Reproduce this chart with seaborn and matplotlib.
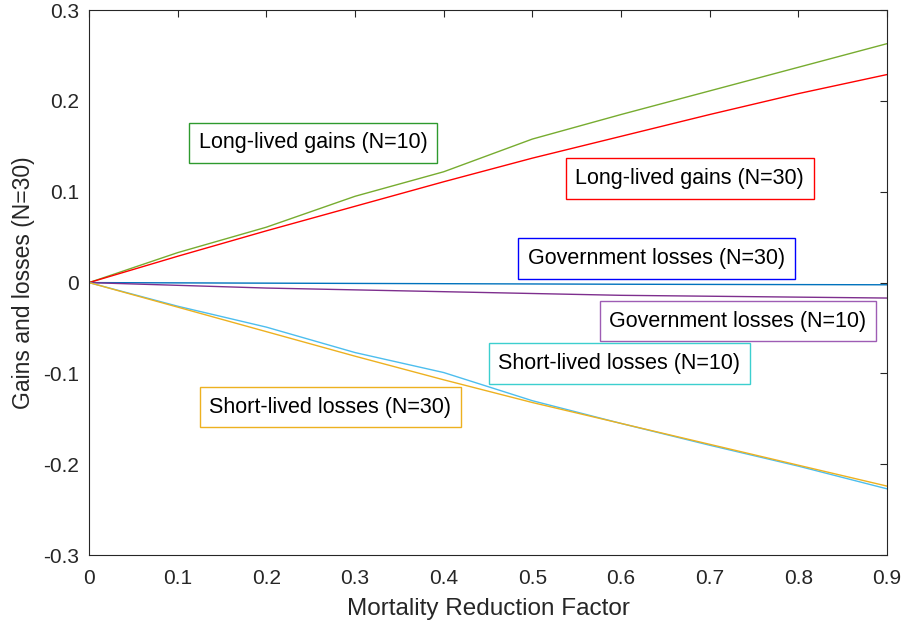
import matplotlib
matplotlib.use("Agg")
import matplotlib.pyplot as plt
import seaborn as sns
import pandas as pd

# Mortality reduction factor grid
mrf = [0.0, 0.1, 0.2, 0.3, 0.4, 0.5, 0.6, 0.7, 0.8, 0.9]

# Gains and losses per group
long_gain_n10 = [0.0, 0.033, 0.061, 0.095, 0.122, 0.158, 0.185, 0.211, 0.237, 0.263]
long_gain_n30 = [0.0, 0.029, 0.057, 0.084, 0.111, 0.137, 0.161, 0.185, 0.208, 0.229]
gov_loss_n30 = [0.0, -0.0003, -0.0006, -0.0009, -0.0012, -0.0015, -0.0018, -0.0020, -0.0022, -0.0024]
gov_loss_n10 = [0.0, -0.003, -0.006, -0.008, -0.010, -0.012, -0.014, -0.015, -0.016, -0.017]
short_loss_n10 = [0.0, -0.026, -0.049, -0.077, -0.099, -0.130, -0.155, -0.179, -0.202, -0.227]
short_loss_n30 = [0.0, -0.027, -0.054, -0.081, -0.107, -0.132, -0.155, -0.178, -0.201, -0.224]

series_names = [
    "Long-lived gains (N=10)",
    "Long-lived gains (N=30)",
    "Government losses (N=30)",
    "Government losses (N=10)",
    "Short-lived losses (N=10)",
    "Short-lived losses (N=30)",
]
series_values = [long_gain_n10, long_gain_n30, gov_loss_n30, gov_loss_n10,
                 short_loss_n10, short_loss_n30]
line_colors = ["#77AC30", "#FF0000", "#0072BD", "#7E2F8E", "#4DBEEE", "#EDB120"]
box_colors = ["#2E9A2E", "#FF0000", "#0000FF", "#9E5CB4", "#3CCFCF", "#EDB120"]
# label anchor points (data coordinates, box centres)
label_x = [0.2525, 0.6776, 0.640, 0.732, 0.598, 0.2723]
label_y = [0.154, 0.1145, 0.0264, -0.0424, -0.0892, -0.137]

frames = []
for name, vals in zip(series_names, series_values):
    frames.append(pd.DataFrame({"mrf": mrf, "value": vals, "series": name}))
df = pd.concat(frames, ignore_index=True)

sns.set_style("white")
plt.rcParams["font.family"] = ["Liberation Sans", "DejaVu Sans"]

fig = plt.figure(figsize=(9.04, 6.28), dpi=100)
ax = fig.add_axes([0.0985, 0.116, 0.8827, 0.868])

sns.lineplot(data=df, x="mrf", y="value", hue="series", hue_order=series_names,
             palette=dict(zip(series_names, line_colors)), linewidth=1.0,
             legend=False, ax=ax)

for name, bx, by, ec in zip(series_names, label_x, label_y, box_colors):
    ax.text(bx, by, name, ha="center", va="center", fontsize=15.5, color="black",
            bbox=dict(boxstyle="square,pad=0.45", facecolor="white",
                      edgecolor=ec, linewidth=1.0))

ax.set_xlim(0, 0.9)
ax.set_ylim(-0.3, 0.3)
ax.set_xticks([0, 0.1, 0.2, 0.3, 0.4, 0.5, 0.6, 0.7, 0.8, 0.9])
ax.set_xticklabels(["0", "0.1", "0.2", "0.3", "0.4", "0.5", "0.6", "0.7", "0.8", "0.9"])
ax.set_yticks([-0.3, -0.2, -0.1, 0, 0.1, 0.2, 0.3])
ax.set_yticklabels(["-0.3", "-0.2", "-0.1", "0", "0.1", "0.2", "0.3"])
ax.tick_params(direction="in", length=5, width=0.8, colors="#262626",
               labelsize=15, top=True, right=True, pad=7)
ax.tick_params(axis="x", pad=10)
for sp in ax.spines.values():
    sp.set_color("#262626")
    sp.set_linewidth(0.8)
ax.set_xlabel("Mortality Reduction Factor", fontsize=17.5, color="#262626", labelpad=7)
ax.set_ylabel("Gains and losses (N=30)", fontsize=16.5, color="#262626", labelpad=6)

fig.savefig("out.png", dpi=100, facecolor="white")
